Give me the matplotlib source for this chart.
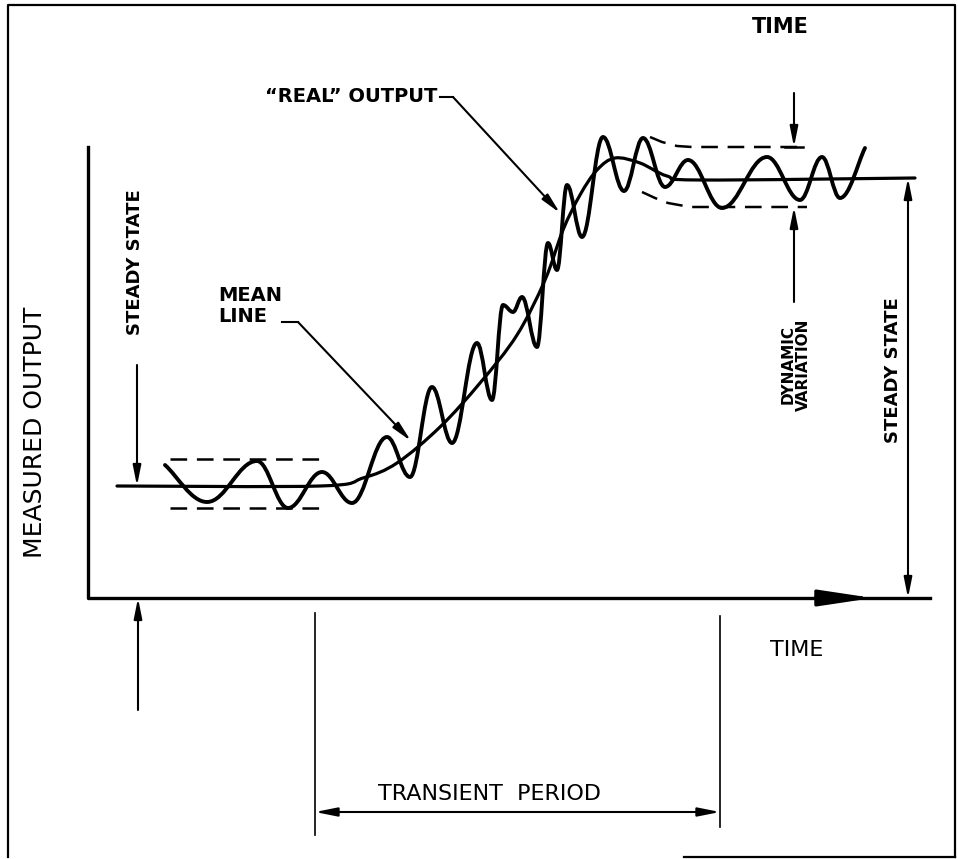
import numpy as np
import matplotlib
matplotlib.use("Agg")
import matplotlib.pyplot as plt
from matplotlib.path import Path
from matplotlib.patches import PathPatch

plt.rcParams["font.family"] = "DejaVu Sans"
plt.rcParams["lines.scale_dashes"] = False

# ---- data (picture units: x = time to the right, y = output measured downward) ----
mean_x = [117, 320, 363, 397, 440, 480, 517, 545, 563, 580, 597, 615, 640, 667, 700, 915]
mean_y = [486, 486, 478, 463, 427, 383, 335, 280, 230, 195, 170, 158, 163, 176, 180, 178]

# turning points of the "real" output
real_x = [165, 207, 257, 288, 322, 352, 387, 410, 432, 452, 477, 492, 503, 513, 522, 537,
          548, 557, 567, 582, 603, 624, 643, 665, 688, 722, 767, 800, 822, 840, 865]
real_y = [465, 502, 461, 508, 472, 503, 437, 477, 387, 443, 343, 400, 305, 312, 297, 347,
          243, 270, 185, 237, 137, 191, 138, 187, 160, 208, 157, 200, 157, 198, 148]

env_left_x = [170, 322]
env_left_hi = [459, 459]
env_left_lo = [508, 508]
env_right_hi_x = [650, 662, 677, 692, 803]
env_right_hi_y = [137, 142, 146, 147, 147]
env_right_lo_x = [642, 655, 668, 690, 807]
env_right_lo_y = [192, 198, 203, 207, 207]

axis_origin = (88, 598)
axis_top = 147
axis_end = 930
transient_start, transient_end = 315, 720


def smooth_path(xs, ys):
    pts = np.column_stack([xs, ys]).astype(float)
    verts, codes = [pts[0]], [Path.MOVETO]
    n = len(pts)
    for i in range(n - 1):
        p0 = pts[i - 1] if i > 0 else pts[i]
        p1, p2 = pts[i], pts[i + 1]
        p3 = pts[i + 2] if i + 2 < n else pts[i + 1]
        verts += [p1 + (p2 - p0) / 6, p2 - (p3 - p1) / 6, p2]
        codes += [Path.CURVE4] * 3
    return Path(verts, codes)


def wave_path(xs, ys, k=0.38):
    pts = np.column_stack([xs, ys]).astype(float)
    verts, codes = [pts[0]], [Path.MOVETO]
    n = len(pts)
    for i in range(n - 1):
        p1, p2 = pts[i], pts[i + 1]
        dx = p2[0] - p1[0]
        c1 = p1 + (p2 - p1) * 0.3 if i == 0 else np.array([p1[0] + k * dx, p1[1]])
        c2 = p2 - (p2 - p1) * 0.3 if i == n - 2 else np.array([p2[0] - k * dx, p2[1]])
        verts += [c1, c2, p2]
        codes += [Path.CURVE4] * 3
    return Path(verts, codes)


def arrow(ax, tail, tip, both=False, lw=1.5, ms=11):
    style = "<|-|>" if both else "-|>"
    ax.annotate("", xy=tip, xytext=tail,
                arrowprops=dict(arrowstyle=style + ",head_length=1.1,head_width=0.22",
                                lw=lw, color="black", shrinkA=0, shrinkB=0,
                                mutation_scale=ms))


fig = plt.figure(figsize=(9.58, 8.59), dpi=100)
ax = fig.add_axes([0, 0, 1, 1])
ax.set_xlim(0, 958)
ax.set_ylim(859, 0)
ax.axis("off")

# frame
ax.plot([8, 8, 955, 955], [857, 5, 5, 857], color="black", lw=1.6)
ax.plot([684, 955], [857, 857], color="black", lw=1.6)

# axes
ox, oy = axis_origin
ax.plot([ox, ox, axis_end], [axis_top, oy, oy], color="black", lw=2.4,
        solid_joinstyle="round")
ax.annotate("", xy=(873, oy), xytext=(815, oy),
            arrowprops=dict(arrowstyle="-|>,head_length=3.0,head_width=0.45",
                            lw=2.4, color="black", shrinkA=0, shrinkB=0,
                            mutation_scale=11))

# curves
ax.add_patch(PathPatch(smooth_path(mean_x, mean_y), fill=False, lw=2.3,
                       edgecolor="black", capstyle="round"))
ax.add_patch(PathPatch(wave_path(real_x, real_y), fill=False, lw=2.8,
                       edgecolor="black", capstyle="round", joinstyle="round"))

# dynamic variation envelopes
dash = dict(color="black", lw=1.8, dashes=(12, 7))
ax.plot(env_left_x, env_left_hi, **dash)
ax.plot(env_left_x, env_left_lo, **dash)
ax.plot(env_right_hi_x, env_right_hi_y, **dash)
ax.plot(env_right_lo_x, env_right_lo_y, **dash)

# left steady state
arrow(ax, (137, 365), (137, mean_y[0]))
ax.text(135, 262, "STEADY STATE", rotation=90, ha="center", va="center",
        fontsize=13, fontweight="bold")
arrow(ax, (138, 710), (138, oy))

# right steady state
arrow(ax, (908, oy), (908, mean_y[-1]), both=True)
ax.text(893, 370, "STEADY STATE", rotation=90, ha="center", va="center",
        fontsize=13, fontweight="bold")

# dynamic variation arrows
ax.plot([785, 803], [147, 147], color="black", lw=1.8)
arrow(ax, (794, 93), (794, 147))
arrow(ax, (794, 302), (794, 207))
ax.text(796, 365, "DYNAMIC\nVARIATION", rotation=90, ha="center", va="center",
        fontsize=11, fontweight="bold", linespacing=1.05, multialignment="center")
ax.text(780, 27, "TIME", ha="center", va="center", fontsize=15, fontweight="bold")

# mean line label
ax.text(218, 306, "MEAN\nLINE", ha="left", va="center", fontsize=14,
        fontweight="bold", linespacing=1.1)
ax.plot([282, 298], [322, 322], color="black", lw=1.5)
arrow(ax, (298, 322), (411, 441))

# real output label
ax.text(437, 96, "\u201cREAL\u201d OUTPUT", ha="right", va="center", fontsize=14,
        fontweight="bold")
ax.plot([440, 453], [97, 97], color="black", lw=1.5)
arrow(ax, (453, 97), (560, 213))

# axis labels
ax.text(35, 432, "MEASURED OUTPUT", rotation=90, ha="center", va="center", fontsize=18)
ax.text(797, 650, "TIME", ha="center", va="center", fontsize=16)

# transient period
ax.plot([transient_start, transient_start], [613, 835], color="black", lw=1.2)
ax.plot([transient_end, transient_end], [616, 827], color="black", lw=1.2)
arrow(ax, (transient_start, 812), (transient_end, 812), both=True, lw=1.5, ms=12)
ax.text(490, 794, "TRANSIENT  PERIOD", ha="center", va="center", fontsize=16)

fig.savefig("out.png", dpi=100)
